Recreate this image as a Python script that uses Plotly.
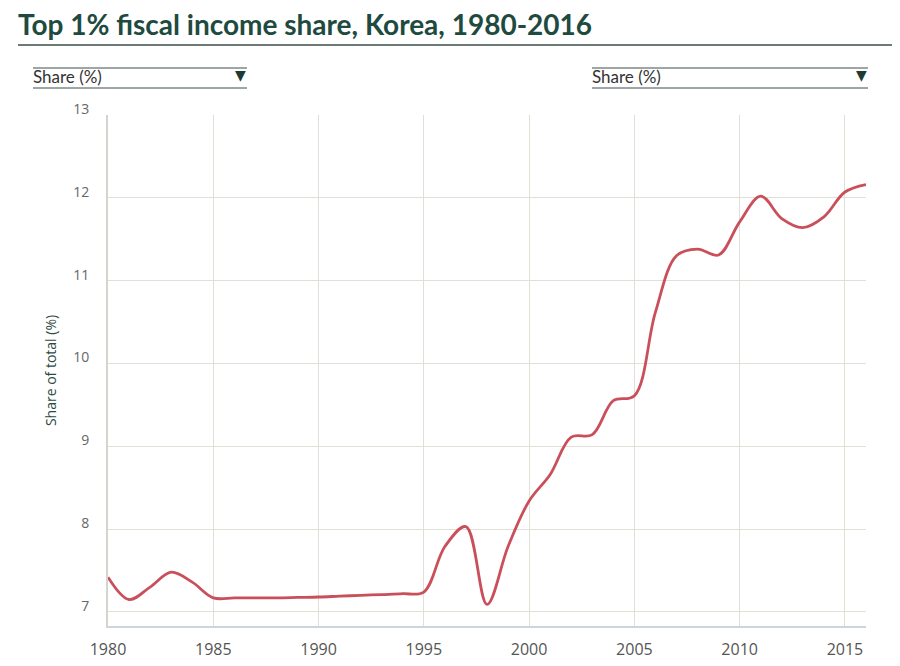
import plotly.graph_objects as go

years = list(range(1980, 2017))
share = [7.42, 7.15, 7.30, 7.48, 7.36, 7.17, 7.17, 7.17, 7.17, 7.175,
         7.18, 7.19, 7.20, 7.21, 7.22, 7.24, 7.79, 8.03, 7.09, 7.79,
         8.34, 8.66, 9.11, 9.14, 9.55, 9.61, 10.62, 11.30, 11.38, 11.31,
         11.71, 12.02, 11.75, 11.64, 11.77, 12.07, 12.16]

x_ticks = [1980, 1985, 1990, 1995, 2000, 2005, 2010, 2015]
y_ticks = [7, 8, 9, 10, 11, 12, 13]

# page body adds an 8px offset; work in reference pixel coords minus 8
OFF = 8
W, H = 900 - OFF, 666 - OFF
L, R, T, B = 108 - OFF, 866 - OFF, 115 - OFF, 626 - OFF

def px(x):
    return (x - OFF - L) / (R - L)

def py(y):
    return (B - (y - OFF)) / (B - T)

fig = go.Figure()
fig.add_trace(go.Scatter(
    x=years, y=share, mode="lines",
    line=dict(color="#c9505b", width=2.8, shape="spline", smoothing=1.0),
    hoverinfo="x+y", showlegend=False,
))

shapes = []
shapes.append(dict(type="line", xref="paper", yref="paper",
                   x0=px(18), x1=px(900), y0=py(45), y1=py(45),
                   line=dict(color="#3d4f4a", width=1.5)))
for (a, b) in [(33, 247), (592, 868)]:
    for yy in (68, 88):
        shapes.append(dict(type="line", xref="paper", yref="paper",
                           x0=px(a), x1=px(b), y0=py(yy), y1=py(yy),
                           line=dict(color="#3d4f4a", width=1)))

annotations = []
for (a, b) in [(33, 247), (592, 868)]:
    annotations.append(dict(text="Share (%)", xref="paper", yref="paper",
                            x=px(a), y=py(77), xanchor="left", yanchor="middle",
                            showarrow=False, xshift=-2,
                            font=dict(family="Lato", size=17, color="#333333")))
    annotations.append(dict(text="▼", xref="paper", yref="paper",
                            x=px(b + 1), y=py(75.5), xanchor="right", yanchor="middle",
                            showarrow=False,
                            font=dict(family="DejaVu Sans", size=14, color="#1f3a33")))

fig.update_layout(
    width=W, height=H,
    margin=dict(l=L, r=W - R, t=T, b=H - B),
    paper_bgcolor="white", plot_bgcolor="white",
    title=dict(text="<b>Top 1% fiscal income share, Korea, 1980-2016</b>",
               x=(18 - OFF) / W, xref="container", xanchor="left",
               y=1 - (25 - OFF) / H, yref="container", yanchor="middle",
               font=dict(family="Lato", size=28, color="#1e4a3f")),
    xaxis=dict(range=[1980, 2016], tickvals=x_ticks, automargin=False,
               showgrid=True, gridcolor="#e2dfd7", gridwidth=1.3,
               zeroline=False, showline=True, linecolor="#cdd5dc", linewidth=1.5,
               ticks="", ticklabelstandoff=8,
               tickfont=dict(family="Open Sans", size=16, color="#555555")),
    yaxis=dict(range=[6.83, 13], tickvals=y_ticks, automargin=False,
               showgrid=True, gridcolor="#e2dfd7", gridwidth=1.3,
               zeroline=False, showline=True, linecolor="#d5d5d0", linewidth=2,
               ticks="", ticklabelstandoff=14, ticklabelshift=-6,
               tickfont=dict(family="Open Sans", size=14, color="#666666"),
               title=dict(text="Share of total (%)", standoff=13,
                          font=dict(family="Open Sans", size=14, color="#2b4a42"))),
    shapes=shapes,
    annotations=annotations,
)

fig.write_html("out.html")
